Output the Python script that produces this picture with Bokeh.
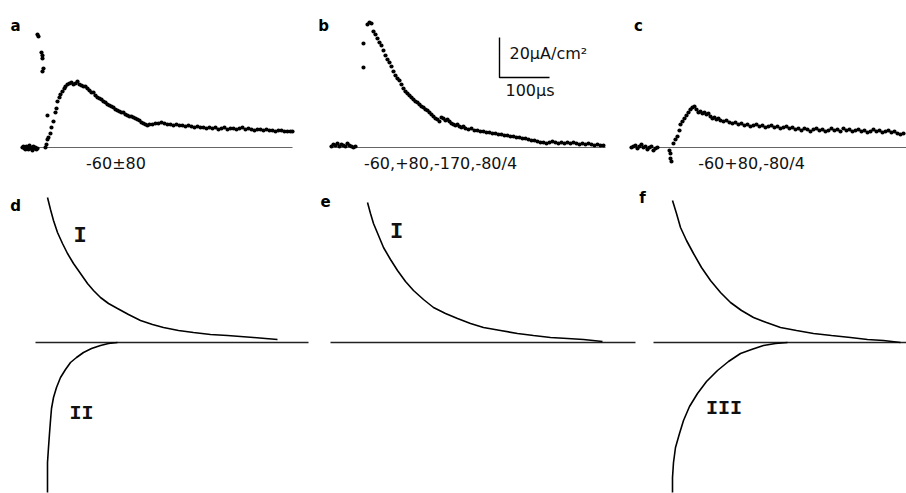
from bokeh.plotting import figure
from bokeh.layouts import column, row
from bokeh.models import Range1d
from bokeh.embed import file_html
from bokeh.resources import INLINE
from bokeh.core.properties import value

# ---------------- data: time (µs) , current (µA/cm²) ----------------
trace_a = [
    (0, 0), (2, 0.5), (4, -0.5), (6, -1), (8, 0.5), (10, 0), (12, -1), (14, 1), (16, -0.5), (18, 0),
    (20, -1.5), (22, 0.5), (24, -0.5), (26, 0), (28, -1), (30, -0.5),
    (30, 56.5), (32, 55.5), (38, 47.5), (40, 46), (40, 44.5), (42, 39.5), (40, 38),
    (46, 0), (48, 1.5), (50, 4), (52, 5), (56, 7), (50, 16), (58, 10), (62, 13), (66, 17.5), (68, 19.5),
    (70, 23), (74, 25), (76, 26.5), (80, 28), (84, 29.5), (86, 30.5), (90, 31.5), (94, 32), (98, 32.5),
    (102, 31.5), (106, 32), (110, 33), (114, 31.5), (118, 31), (122, 30.5), (126, 30.5), (130, 29.5),
    (134, 28.5), (138, 27.5), (142, 27.5), (146, 26), (150, 25), (154, 24.5), (158, 24), (162, 23),
    (166, 22.5), (170, 21.5), (174, 21), (178, 20.5), (182, 20), (186, 19), (190, 18.5), (194, 18),
    (198, 17.5), (202, 17.5), (206, 16.5), (210, 16), (214, 15.5), (218, 15.5), (222, 15), (226, 14.5),
    (230, 14), (234, 13.5), (238, 12.5), (242, 12), (246, 11.5), (250, 11), (254, 11.5), (260, 11.5),
    (266, 12), (272, 12), (278, 12.5), (284, 12), (290, 11.5), (296, 11.5), (302, 11), (308, 11.5),
    (314, 11), (320, 11), (326, 10.5), (332, 11), (338, 10.5), (344, 10), (350, 10.5), (356, 10),
    (362, 10), (368, 9.5), (374, 10), (380, 9.5), (386, 10), (392, 9), (398, 9.5), (404, 10), (410, 9),
    (416, 9.5), (422, 9.5), (428, 9), (434, 9.5), (440, 10), (446, 9), (452, 9.5), (458, 9), (464, 8.5),
    (470, 9), (476, 9), (482, 8.5), (488, 9), (494, 8.5), (500, 8.5), (506, 8), (512, 8.5), (518, 8.5),
    (524, 8), (530, 8), (536, 8), (540, 8),
]

trace_b = [
    (2, 0.5), (6, 1.5), (10, 1), (14, 2), (18, 0.5), (22, 1.5), (26, 1), (30, 0.5), (34, 2), (38, 1),
    (42, 0.5), (46, 0), (50, 0.5),
    (66, 40), (66, 52), (74, 61.5), (78, 62.5), (82, 62), (86, 58), (90, 56.5), (94, 54.5), (98, 52.5),
    (102, 51), (106, 48.5), (110, 46), (114, 44), (118, 42.5), (122, 40.5), (126, 38), (130, 36),
    (134, 34.5), (138, 33.5), (142, 31.5), (146, 29.5), (150, 28), (154, 27), (158, 26), (162, 25),
    (166, 24), (170, 23), (174, 22.5), (178, 21.5), (182, 20.5), (186, 20), (190, 19), (194, 18.5),
    (198, 17.5), (202, 16.5), (206, 15.5), (210, 14.5), (214, 14), (218, 13), (222, 15), (226, 14.5),
    (230, 13.5), (234, 14), (238, 13), (242, 12), (246, 11.5), (250, 11), (254, 11.5), (258, 10.5),
    (262, 10), (266, 10.5), (270, 9.5), (276, 9), (282, 9.5), (288, 8.5), (294, 8.5), (300, 8), (306, 8),
    (312, 7.5), (318, 7.5), (324, 7), (330, 7), (336, 6.5), (342, 6.5), (348, 6), (354, 6), (360, 5.5),
    (366, 5.5), (372, 5), (378, 5), (384, 4.5), (390, 4.5), (396, 4), (402, 3.5), (408, 3.5), (414, 3),
    (420, 2.5), (426, 2.5), (432, 2), (438, 2.5), (444, 3), (450, 2.5), (456, 2), (462, 2.5), (468, 2),
    (474, 2.5), (480, 2), (486, 2.5), (492, 2), (498, 1.5), (504, 2), (510, 1.5), (516, 2), (522, 1.5),
    (528, 1), (534, 1.5), (540, 1), (546, 1),
]

trace_c = [
    (2, 0), (6, 0.5), (10, 1), (14, -0.5), (18, 0.5), (22, 1.5), (26, 0), (30, 0.5), (34, -1), (38, 0),
    (42, 0.5), (46, -1.5), (50, -0.5), (54, 0),
    (78, -1.5), (80, -3), (80, -5.5), (82, -7),
    (86, 2), (90, 4), (94, 5.5), (98, 8.5), (100, 11.5), (104, 13), (108, 14.5), (112, 16), (116, 17.5),
    (120, 19), (124, 20), (128, 20.5), (132, 19), (136, 17.5), (140, 18), (144, 17), (148, 17.5),
    (152, 16.5), (156, 17), (160, 15.5), (164, 14.5), (168, 15), (172, 14), (176, 14.5), (180, 13.5),
    (186, 13), (192, 13.5), (198, 12.5), (204, 12), (210, 12.5), (216, 11.5), (222, 12), (228, 11),
    (234, 11.5), (240, 10.5), (246, 11), (252, 11.5), (258, 10.5), (264, 11), (270, 10), (276, 10.5),
    (282, 11), (288, 10), (294, 10.5), (300, 9.5), (306, 10), (312, 10.5), (318, 9.5), (324, 10),
    (330, 9), (336, 9.5), (342, 8.5), (348, 9.5), (354, 9), (360, 8), (366, 9), (372, 9.5), (378, 8.5),
    (384, 9), (390, 8), (396, 8.5), (402, 9.5), (408, 8.5), (414, 9), (420, 8), (426, 9.5), (432, 8.5),
    (438, 9), (444, 8), (450, 8.5), (456, 9), (462, 8), (468, 8.5), (474, 7.5), (480, 8), (486, 9),
    (492, 8), (498, 8.5), (504, 7.5), (510, 8), (516, 8.5), (522, 7.5), (528, 8), (534, 7), (540, 6.5),
    (546, 7),
]

# computed components (same units)
curve_d_I = [(24, 72.5), (30, 66.5), (36, 61), (44, 55), (54, 49.5), (64, 44.5), (76, 39.5), (90, 34.5),
             (104, 29.5), (116, 26), (130, 22.5), (146, 19.5), (164, 17), (186, 14), (210, 11), (234, 9),
             (256, 7.5), (286, 6), (316, 5), (350, 4), (384, 3.5), (410, 3), (436, 2.5), (460, 2), (484, 1.5)]
curve_d_II = [(164, 0), (146, -0.5), (130, -1.5), (112, -3), (96, -5), (82, -7.5), (70, -10), (60, -13.5),
              (50, -17.5), (42, -22.5), (36, -27.5), (32, -33), (30, -39), (28, -45.5), (26, -52.5),
              (24, -60), (24, -68), (24, -75)]
curve_e_I = [(74, 70), (80, 64.5), (86, 59.5), (96, 53.5), (106, 47.5), (120, 41.5), (134, 36), (150, 30.5),
             (166, 26), (186, 21.5), (206, 17.5), (230, 14.5), (254, 12), (280, 9.5), (306, 7.5), (340, 6),
             (374, 4.5), (406, 3.5), (440, 2.5), (474, 2), (506, 1.5), (544, 0.5)]
curve_f_up = [(38, 71), (46, 64.5), (54, 57.5), (66, 51), (80, 44.5), (96, 37.5), (114, 31), (134, 25),
              (154, 20), (176, 16), (200, 12.5), (226, 10), (254, 7.5), (286, 6), (320, 4.5), (356, 3.5),
              (394, 2.5), (428, 1.5), (460, 1), (494, 0)]
curve_f_III = [(268, 0), (244, -0.5), (220, -1.5), (196, -3.5), (174, -5.5), (150, -9.5), (128, -14),
               (106, -19.5), (88, -25.5), (72, -32), (60, -39), (52, -45.5), (44, -52.5), (40, -60),
               (38, -67.5), (38, -75)]

baseline_end = {"a": 540, "b": 550, "c": 552, "d": 546, "e": 610, "f": 506}
protocols = {"a": "-60±80", "b": "-60,+80,-170,-80/4", "c": "-60+80,-80/4"}
scale_current = 20   # µA/cm²
scale_time = 100     # µs


def xs(pairs):
    return [p[0] for p in pairs]


def ys(pairs):
    return [p[1] for p in pairs]


def panel(w, h, xr, yr):
    p = figure(width=w, height=h, x_range=Range1d(*xr), y_range=Range1d(*yr),
               output_backend="svg", toolbar_location=None, tools="", title=None,
               x_axis_location=None, y_axis_location=None, min_border=0)
    p.grid.visible = False
    p.outline_line_color = None
    return p


def letter(p, x, y, s):
    p.text(x=[x], y=[y], text=[s], text_font=value("DejaVu Sans"), text_font_style="bold",
           text_font_size=value("15px"), text_align="center", text_baseline="middle", text_color="black")


def label(p, x, y, s, size="16px", align="center", font="DejaVu Sans", style="normal"):
    p.text(x=[x], y=[y], text=[s], text_font=value(font), text_font_style=style,
           text_font_size=value(size), text_align=align, text_baseline="middle", text_color="#111111")


TOP = (-16.5, 73.5)
BOT = (-75.5, 81)

pa = panel(316, 180, (-44, 588), TOP)
pb = panel(306, 180, (-28, 584), TOP)
pc = panel(284, 180, (-16, 552), TOP)
pd = panel(318, 313, (-70, 566), BOT)
pe = panel(318, 313, (-24, 612), BOT)
pf = panel(270, 313, (-34, 506), BOT)

for key, p, tr, lx in (("a", pa, trace_a, 187), ("b", pb, trace_b, 220), ("c", pc, trace_c, 242)):
    p.line([0, baseline_end[key]], [0, 0], line_color="#666666", line_width=1.2)
    p.scatter(xs(tr), ys(tr), marker="circle", size=4.2, fill_color="black", line_color=None)
    label(p, lx, -8, protocols[key])

letter(pa, -14, 61, "a")
letter(pb, -14, 61, "b")
letter(pc, 16, 61, "c")

# scale bar in panel b
bx, by = 338, 35
pb.line([bx, bx, bx + scale_time], [by + scale_current, by, by], line_color="black", line_width=1.4)
label(pb, bx + 20, by + 12, f"{scale_current}µA/cm²", align="left")
label(pb, bx + 12, by - 6.5, f"{scale_time}µs", align="left")

for key, p in (("d", pd), ("e", pe), ("f", pf)):
    p.line([0, baseline_end[key]], [0, 0], line_color="#222222", line_width=1.6)

for p, cv in ((pd, curve_d_I), (pd, curve_d_II), (pe, curve_e_I), (pf, curve_f_up), (pf, curve_f_III)):
    p.line(xs(cv), ys(cv), line_color="black", line_width=1.6)

letter(pd, -40, 68.5, "d")
letter(pe, -10, 71, "e")
letter(pf, -22, 72.5, "f")
ROMAN = "Liberation Mono"
label(pd, 89, 53, "I", size="22px", font=ROMAN, style="bold")
label(pd, 92, -35.5, "II", size="20px", font=ROMAN, style="bold")
label(pe, 132, 55, "I", size="22px", font=ROMAN, style="bold")
label(pf, 141, -33, "III", size="20px", font=ROMAN, style="bold")

layout = column(row(pa, pb, pc), row(pd, pe, pf))
open("out.html", "w").write(file_html(layout, INLINE))
